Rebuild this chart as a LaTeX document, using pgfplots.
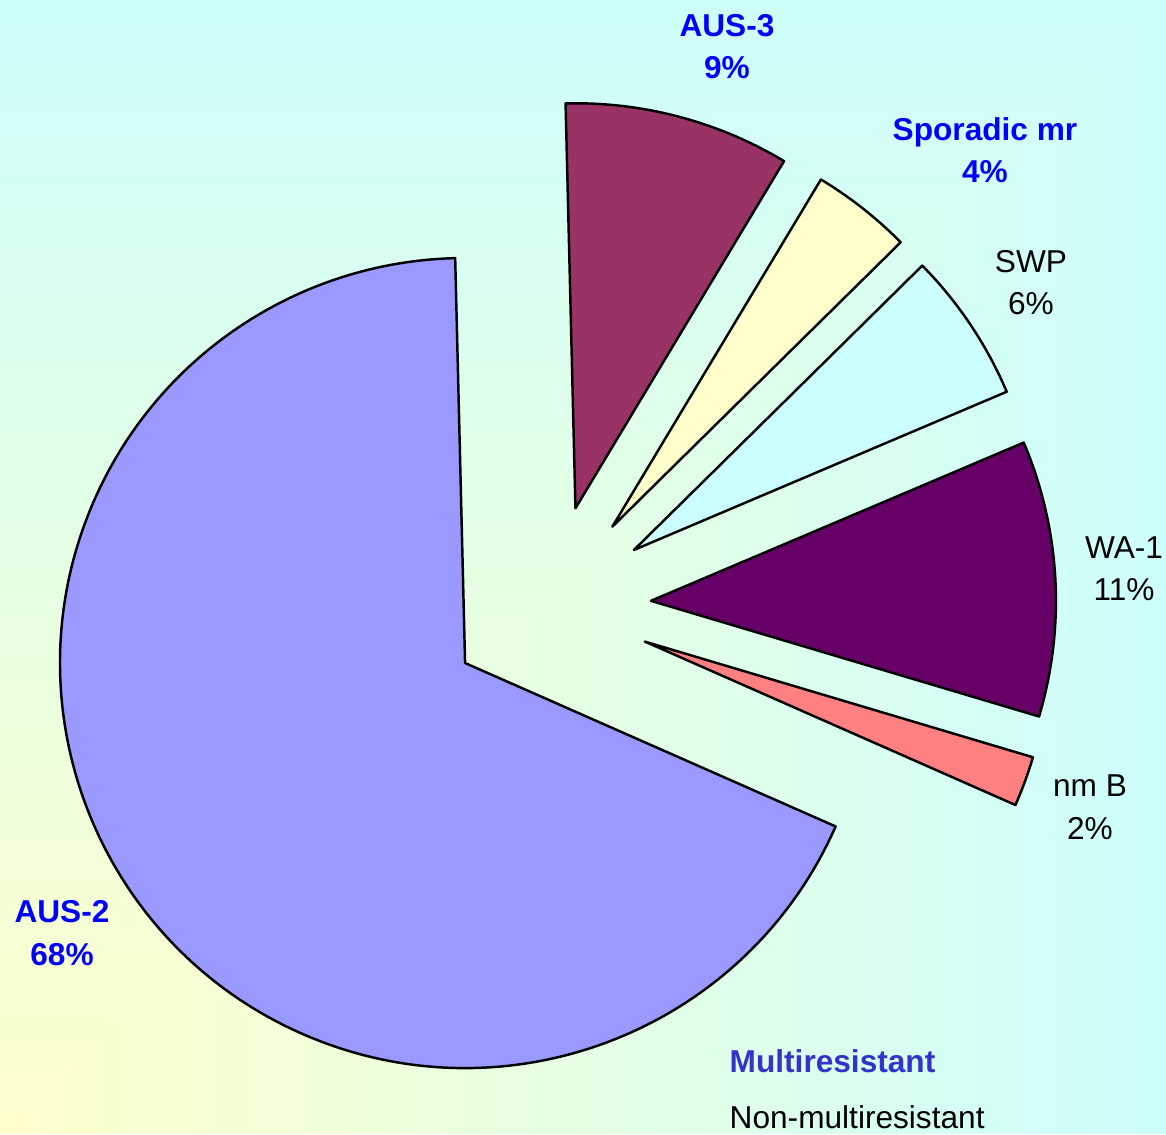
\documentclass[border=0pt]{standalone}
\usepackage{pgfplots}
\pgfplotsset{compat=1.18}
\usepackage{fontspec}
\setmainfont{Liberation Sans}

\definecolor{cAUSthree}{HTML}{993366}
\definecolor{cSpor}{HTML}{FFFFCC}
\definecolor{cSWP}{HTML}{CCFFFF}
\definecolor{cWA}{HTML}{660066}
\definecolor{cNMB}{HTML}{FF8080}
\definecolor{cAUStwo}{HTML}{9999FF}
\definecolor{lblblue}{HTML}{0000FF}
\definecolor{legblue}{HTML}{3333CC}
\definecolor{bgY}{HTML}{FFFFCC}
\definecolor{bgC}{HTML}{CCFFFC}

\tikzset{
  lbl/.style={font={\fontsize{9}{12.2}\selectfont}, inner sep=0pt, align=center, anchor=base},
  blbl/.style={lbl, text=lblblue, font={\fontsize{9}{12.2}\selectfont\bfseries}},
}

\begin{document}
\begin{tikzpicture}
\begin{axis}[
    scale only axis,
    width=11.66cm, height=11.34cm,
    xmin=0, xmax=1166, ymin=0, ymax=1134,
    hide axis,
    clip=false,
]
% background: gradient from the lower left corner (yellow) to cyan
\foreach \i in {50,49,...,1}{
  \pgfmathsetmacro\rx{23.32*\i}
  \pgfmathsetmacro\ry{22.68*\i}
  \pgfmathtruncatemacro\pc{2*\i-1}
  \edef\temp{\noexpand\fill[bgC!\pc!bgY] (axis cs:0,0) rectangle (axis cs:\rx,\ry);}
  \temp
}
\coordinate (BL) at (axis cs:0,0);
\coordinate (TR) at (axis cs:1166,1134);

% exploded pie: share (%) / colour, clockwise from the top
\gdef\cum{0}
\foreach \p/\c in {9/cAUSthree, 4/cSpor, 6/cSWP, 11/cWA, 2/cNMB, 68/cAUStwo}{
  \pgfmathsetmacro\a{91.4-3.6*\cum}
  \pgfmathsetmacro\b{\a-3.6*\p}
  \pgfmathsetmacro\m{(\a+\b)/2}
  \pgfmathsetmacro\tx{549.5+101.6*cos(\m)}
  \pgfmathsetmacro\ty{527.5+101.6*sin(\m)}
  \pgfmathsetmacro\sx{\tx+405*cos(\a)}
  \pgfmathsetmacro\sy{\ty+405*sin(\a)}
  \edef\temp{\noexpand\draw[fill=\c, line width=0.7pt, line join=round]
    (axis cs:\tx,\ty) -- (axis cs:\sx,\sy)
    arc[start angle=\a, end angle=\b, radius=405] -- cycle;}
  \temp
  \pgfmathsetmacro\newcum{\cum+\p}
  \xdef\cum{\newcum}
}

% labels (anchored at the baseline of the second line)
\node[blbl] at (axis cs:727,1055) {AUS-3\\9\%};
\node[blbl] at (axis cs:985,951) {Sporadic mr\\4\%};
\node[lbl] at (axis cs:1031,819) {SWP\\6\%};
\node[lbl] at (axis cs:1124,533) {WA-1\\11\%};
\node[lbl] at (axis cs:1090,295) {nm B\\2\%};
\node[blbl] at (axis cs:62,169) {AUS-2\\68\%};
\node[blbl, anchor=base west, text=legblue] at (axis cs:729,62) {Multiresistant};
\node[lbl, anchor=base west] at (axis cs:729,6) {Non-multiresistant};
\end{axis}
\pgfresetboundingbox
\path[use as bounding box] (BL) rectangle (TR);
\end{tikzpicture}
\end{document}
